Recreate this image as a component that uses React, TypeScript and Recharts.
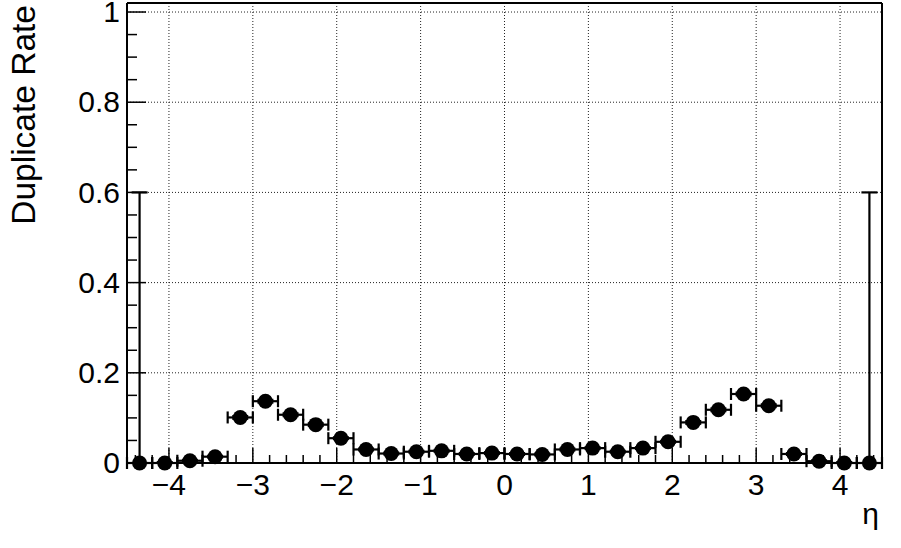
import React from "react";
import {
  ComposedChart,
  Scatter,
  ErrorBar,
  XAxis,
  YAxis,
  ReferenceLine,
} from "recharts";

const FONT = "'Liberation Sans', Arial, Helvetica, sans-serif";

// bin centres in eta (bin width 0.3)
const etaBins = [
  -4.35, -4.05, -3.75, -3.45, -3.15, -2.85, -2.55, -2.25, -1.95, -1.65,
  -1.35, -1.05, -0.75, -0.45, -0.15, 0.15, 0.45, 0.75, 1.05, 1.35,
  1.65, 1.95, 2.25, 2.55, 2.85, 3.15, 3.45, 3.75, 4.05, 4.35,
];
const binHalfWidth = 0.15;

const duplicateRate = [
  0, 0, 0.005, 0.014, 0.101, 0.137, 0.107, 0.085, 0.055, 0.03,
  0.021, 0.025, 0.027, 0.02, 0.022, 0.02, 0.019, 0.03, 0.033, 0.025,
  0.033, 0.047, 0.09, 0.118, 0.153, 0.127, 0.02, 0.004, 0, 0,
];

const rateError = [
  0.6, 0.002, 0.002, 0.002, 0.003, 0.003, 0.003, 0.003, 0.002, 0.002,
  0.002, 0.002, 0.002, 0.002, 0.002, 0.002, 0.002, 0.002, 0.002, 0.002,
  0.002, 0.002, 0.003, 0.003, 0.003, 0.003, 0.002, 0.002, 0.002, 0.6,
];

const xMajor = [-4, -3, -2, -1, 0, 1, 2, 3, 4];
const yMajor = [0, 0.2, 0.4, 0.6, 0.8, 1];
const xMinorStep = 0.2;
const yMinorStep = 0.05;

const xTicks: number[] = [];
for (let i = -22; i <= 22; i++) xTicks.push(Math.round(i * xMinorStep * 100) / 100);
const yTicks: number[] = [];
for (let i = 0; i <= 20; i++) yTicks.push(Math.round(i * yMinorStep * 100) / 100);

const points = etaBins.map((eta, i) => ({
  eta,
  rate: duplicateRate[i],
  etaErr: binHalfWidth,
  rateErr: [Math.min(rateError[i], duplicateRate[i]), rateError[i]],
}));

const isMajor = (v: number, list: number[]) =>
  list.some((m) => Math.abs(m - v) < 1e-6);

const fmtX = (v: number) => (v < 0 ? `\u2212${Math.abs(v)}` : `${v}`);

const XTick = (props: any) => {
  const { x, y, payload } = props;
  const major = isMajor(payload.value, xMajor);
  return (
    <g>
      <line x1={x} x2={x} y1={y} y2={y - (major ? 15 : 8)} stroke="#000" strokeWidth={1.5} />
      {major && (
        <text x={x} y={y + 32} textAnchor="middle" fontSize={30} fontFamily={FONT} fill="#000">
          {fmtX(payload.value)}
        </text>
      )}
    </g>
  );
};

const YTick = (props: any) => {
  const { x, y, payload } = props;
  const major = isMajor(payload.value, yMajor);
  return (
    <g>
      <line x1={x} x2={x + (major ? 19 : 10)} y1={y} y2={y} stroke="#000" strokeWidth={1.5} />
      {major && (
        <text x={x - 7} y={y} dy="0.34em" textAnchor="end" fontSize={30} fontFamily={FONT} fill="#000">
          {`${payload.value}`}
        </text>
      )}
    </g>
  );
};

const YTitle = (props: any) => {
  const vb = props.viewBox || { x: 0, y: 3 };
  return (
    <text
      transform={`translate(${vb.x + 35}, ${vb.y + 2}) rotate(-90)`}
      textAnchor="end"
      fontSize={33.5}
      fontFamily={FONT}
      fill="#000"
    >
      Duplicate Rate
    </text>
  );
};

const XTitle = (props: any) => {
  const vb = props.viewBox || { x: 127, y: 463, width: 755 };
  return (
    <text x={vb.x + vb.width - 3} y={vb.y + 61} textAnchor="end" fontSize={30} fontFamily={FONT} fill="#000">
      η
    </text>
  );
};

const Marker = (props: any) => <circle cx={props.cx} cy={props.cy} r={7.5} fill="#000" />;

export default function App() {
  return (
    <div style={{ position: "absolute", left: 0, top: 0, background: "#fff" }}>
      <ComposedChart width={901} height={548} margin={{ top: 3, right: 19, bottom: 0, left: 0 }}>
        <XAxis
          dataKey="eta"
          type="number"
          domain={[-4.5, 4.5]}
          ticks={xTicks}
          interval={0}
          tick={<XTick />}
          tickLine={false}
          tickSize={0}
          tickMargin={0}
          height={85}
          axisLine={{ stroke: "#000", strokeWidth: 2 }}
          label={<XTitle />}
        />
        <YAxis
          type="number"
          domain={[0, 1.02]}
          ticks={yTicks}
          interval={0}
          tick={<YTick />}
          tickLine={false}
          tickSize={0}
          tickMargin={0}
          width={127}
          axisLine={{ stroke: "#000", strokeWidth: 2 }}
          label={<YTitle />}
        />
        {xMajor.map((v) => (
          <ReferenceLine key={`gx${v}`} x={v} stroke="#222" strokeDasharray="1 2" strokeWidth={1} />
        ))}
        {yMajor.filter((v) => v > 0).map((v) => (
          <ReferenceLine key={`gy${v}`} y={v} stroke="#222" strokeDasharray="1 2" strokeWidth={1} />
        ))}
        <ReferenceLine y={1.02} stroke="#000" strokeWidth={2} />
        <ReferenceLine x={4.5} stroke="#000" strokeWidth={2} />
        <Scatter data={points} dataKey="rate" shape={<Marker />} isAnimationActive={false}>
          <ErrorBar dataKey="etaErr" direction="x" width={6} stroke="#000" strokeWidth={2.2} />
          <ErrorBar dataKey="rateErr" direction="y" width={8} stroke="#000" strokeWidth={2.2} />
        </Scatter>
      </ComposedChart>
    </div>
  );
}
